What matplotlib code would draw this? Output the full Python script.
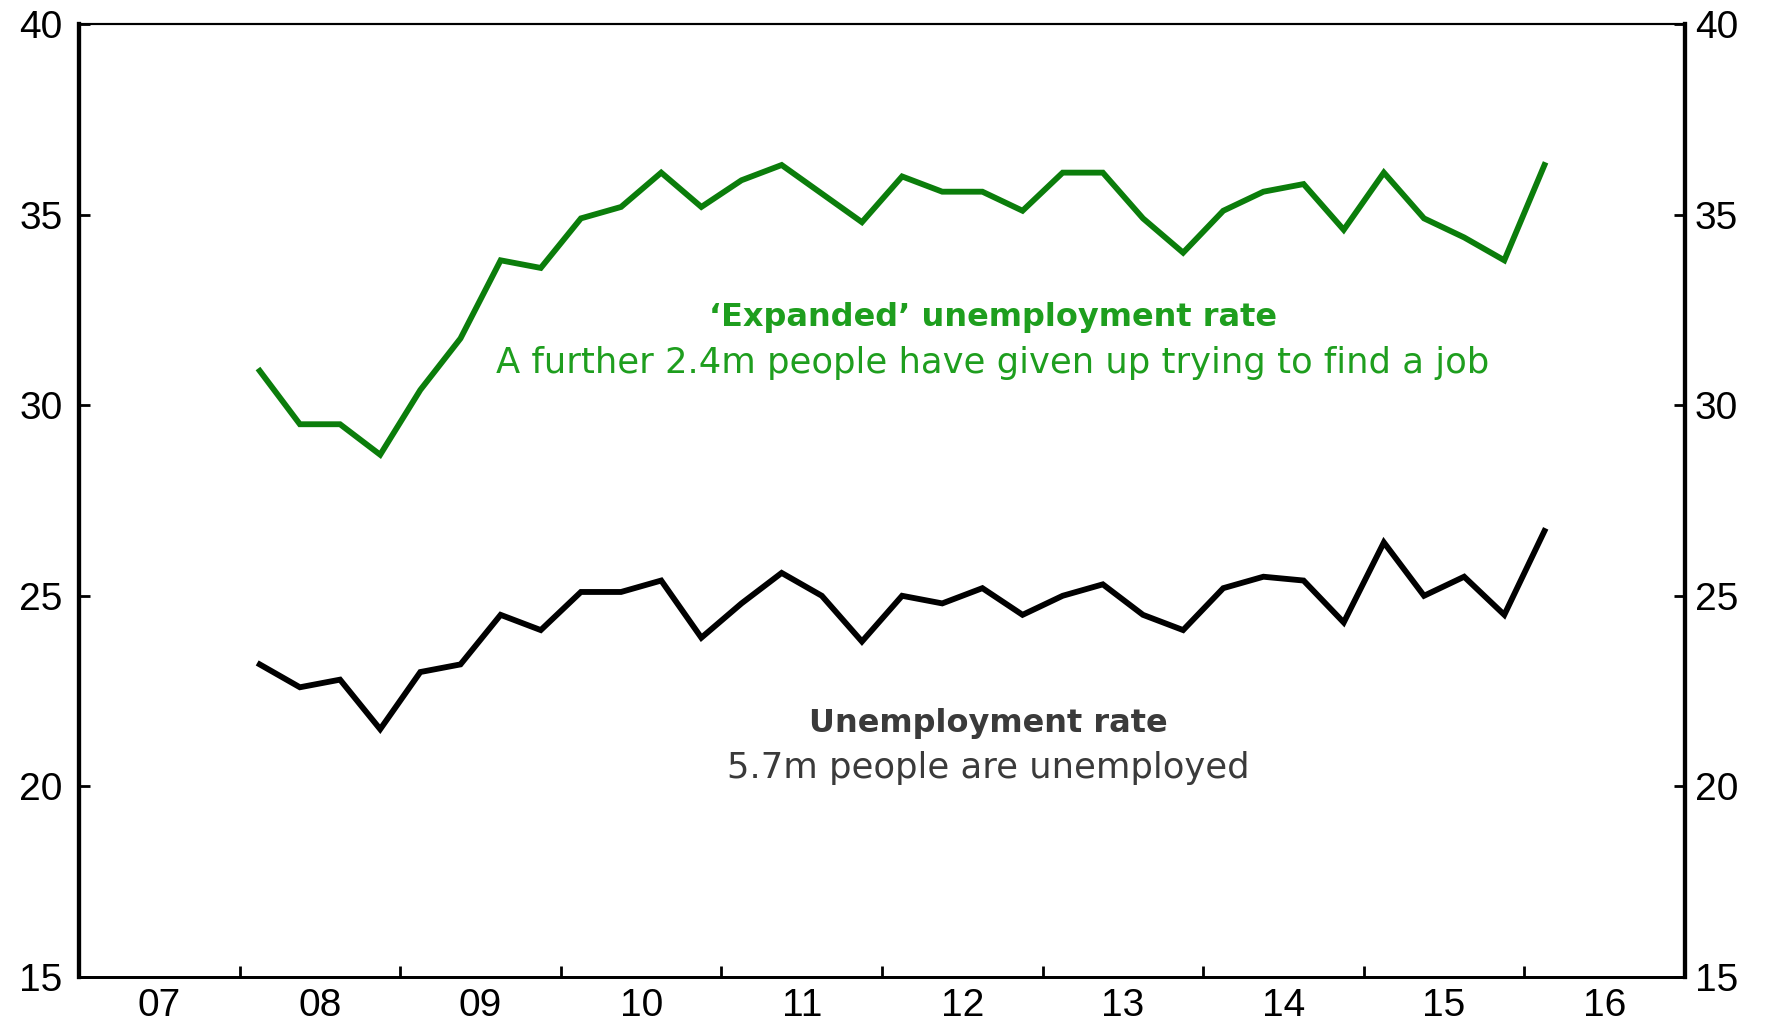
import numpy as np
import matplotlib
matplotlib.use("Agg")
import matplotlib.pyplot as plt

# quarterly data, 2008Q1 - 2016Q1
start_year = 2008
expanded = [30.9, 29.5, 29.5, 28.7, 30.4, 31.75, 33.8, 33.6, 34.9, 35.2,
            36.1, 35.2, 35.9, 36.3, 35.55, 34.8, 36.0, 35.6, 35.6, 35.1,
            36.1, 36.1, 34.9, 34.0, 35.1, 35.6, 35.8, 34.6, 36.1, 34.9,
            34.4, 33.8, 36.3]
official = [23.2, 22.6, 22.8, 21.5, 23.0, 23.2, 24.5, 24.1, 25.1, 25.1,
            25.4, 23.9, 24.8, 25.6, 25.0, 23.8, 25.0, 24.8, 25.2, 24.5,
            25.0, 25.3, 24.5, 24.1, 25.2, 25.5, 25.4, 24.3, 26.4, 25.0,
            25.5, 24.5, 26.7]
year_labels = ["07", "08", "09", "10", "11", "12", "13", "14", "15", "16"]
y_ticks = [15, 20, 25, 30, 35, 40]

x = start_year + 0.125 + 0.25 * np.arange(len(expanded))

plt.rcParams['font.family'] = 'Liberation Sans'

fig = plt.figure(figsize=(17.69, 10.24), dpi=100)
ax = fig.add_axes([0.0447, 0.0459, 0.9078, 0.9307])

green_line = "#0b7d0b"
green_text = "#1e9e1e"

ax.plot(x, expanded, color=green_line, lw=4.2, solid_joinstyle="miter")
ax.plot(x, official, color="black", lw=4.2, solid_joinstyle="miter")

ax.set_xlim(2007, 2017)
ax.set_ylim(15, 40)

# year boundaries as ticks, labels at mid-year
ax.set_xticks(np.arange(2008, 2017))
ax.set_xticklabels([])
ax.set_xticks(np.arange(2007, 2017) + 0.5, minor=True)
ax.set_xticklabels(year_labels, minor=True)
ax.tick_params(axis="x", which="major", direction="in", length=8, width=2)
ax.tick_params(axis="x", which="minor", length=0, pad=8, labelsize=28)

ax.set_yticks(y_ticks)
ax.tick_params(axis="y", direction="in", length=8, width=2, labelsize=28, pad=12)

# right hand axis, same scale
ax2 = ax.twinx()
ax2.set_ylim(15, 40)
ax2.set_yticks(y_ticks)
ax2.tick_params(axis="y", direction="in", length=8, width=2, labelsize=28, pad=7)

for a in (ax, ax2):
    a.spines["left"].set_linewidth(3)
    a.spines["right"].set_linewidth(3)
    a.spines["bottom"].set_linewidth(2)
    a.spines["top"].set_linewidth(1.5)

ax.text(2012.69, 32.3, "\u2018Expanded\u2019 unemployment rate", color=green_text,
        fontsize=23, fontweight="bold", ha="center", va="center", family="DejaVu Sans")
ax.text(2012.69, 31.1, "A further 2.4m people have given up trying to find a job",
        color=green_text, fontsize=25.5, ha="center", va="center", family="DejaVu Sans")
ax.text(2012.66, 21.66, "Unemployment rate", color="#3a3a3a",
        fontsize=23, fontweight="bold", ha="center", va="center", family="DejaVu Sans")
ax.text(2012.66, 20.48, "5.7m people are unemployed", color="#3a3a3a",
        fontsize=25.5, ha="center", va="center", family="DejaVu Sans")

fig.savefig("out.png", dpi=100)
